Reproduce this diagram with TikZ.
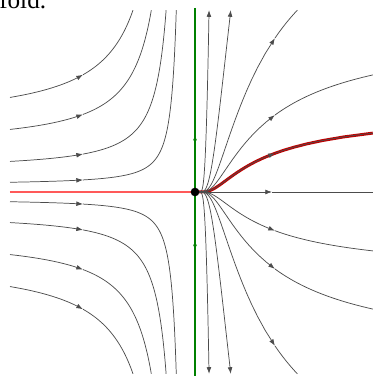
\documentclass[tikz,border=0pt]{standalone}
\usepackage{fontspec}
\setmainfont{Liberation Serif}
\usepackage{tikz}
\usetikzlibrary{arrows.meta}

\begin{document}
\begin{tikzpicture}[x=0.0265cm, y=0.0265cm]
  \tikzstyle{orbit} = [draw=black!70, line width=0.55pt]
  \tikzstyle{flow} = [-{Latex[length=5pt, width=3.6pt]}]
  \tikzstyle{centre} = [draw=red!75!black, line width=2.2pt]
  \tikzstyle{stable} = [draw=red!65, line width=1.7pt]
  \tikzstyle{unstable} = [draw=green!50!black, line width=2.2pt]
  \tikzstyle{fixedpt} = [circle, fill=black, inner sep=0pt, minimum size=0.23cm]

  \useasboundingbox (-195,-184) rectangle (178,192);
  \node [anchor=base west, inner sep=0pt, font=\fontsize{19}{19}\selectfont] (label) at (-196,183) {fold.};

  \draw [stable] (-185,0) -- (0,0);
  \draw [centre] (0,0) -- plot [domain=-1.204:4.076, samples=80, variable=\p] ({61/(4.419-(\p))}, {exp(\p)});
  \draw [unstable] (0,184) -- (0,-184);
  \draw [unstable, -{Latex[length=4pt, width=3pt]}] (0,45) -- (0,57);
  \draw [unstable, -{Latex[length=4pt, width=3pt]}] (0,-46) -- (0,-58);

  \draw [orbit, flow] (0,0) -- (77,0);
  \draw [orbit] (77,0) -- (178,0);

  \foreach \s in {1,-1} {
    \foreach \c in {7,22,45,68} {
      \pgfmathsetmacro{\lnc}{ln(\c)}
      \pgfmathsetmacro{\tstart}{\lnc+61/185}
      \pgfmathsetmacro{\tmark}{\lnc+61/112}
      \pgfmathsetmacro{\tend}{ln(182)}
      \draw [orbit, flow, yscale=\s] plot [domain=\tstart:\tmark, samples=20, variable=\p] ({61/(\lnc-(\p))}, {exp(\p)});
      \draw [orbit, yscale=\s] plot [domain=\tmark:\tend, samples=90, variable=\p] ({61/(\lnc-(\p))}, {exp(\p)});
    }
    \foreach \c in {83,165,330} {
      \pgfmathsetmacro{\lnc}{ln(\c)}
      \pgfmathsetmacro{\tmark}{\lnc-61/80}
      \pgfmathsetmacro{\tend}{min(ln(182),\lnc-61/178)}
      \draw [orbit, flow, yscale=\s] (0,0) -- plot [domain=-1.204:\tmark, samples=60, variable=\p] ({61/(\lnc-(\p))}, {exp(\p)});
      \draw [orbit, yscale=\s] plot [domain=\tmark:\tend, samples=60, variable=\p] ({61/(\lnc-(\p))}, {exp(\p)});
    }
    \foreach \c in {1000,14000} {
      \pgfmathsetmacro{\lnc}{ln(\c)}
      \draw [orbit, flow, yscale=\s] (0,0) -- plot [domain=-1.204:5.204, samples=60, variable=\p] ({61/(\lnc-(\p))}, {exp(\p)});
    }
  }

  \node [fixedpt] (saddle) at (0,0) {};
\end{tikzpicture}
\end{document}
